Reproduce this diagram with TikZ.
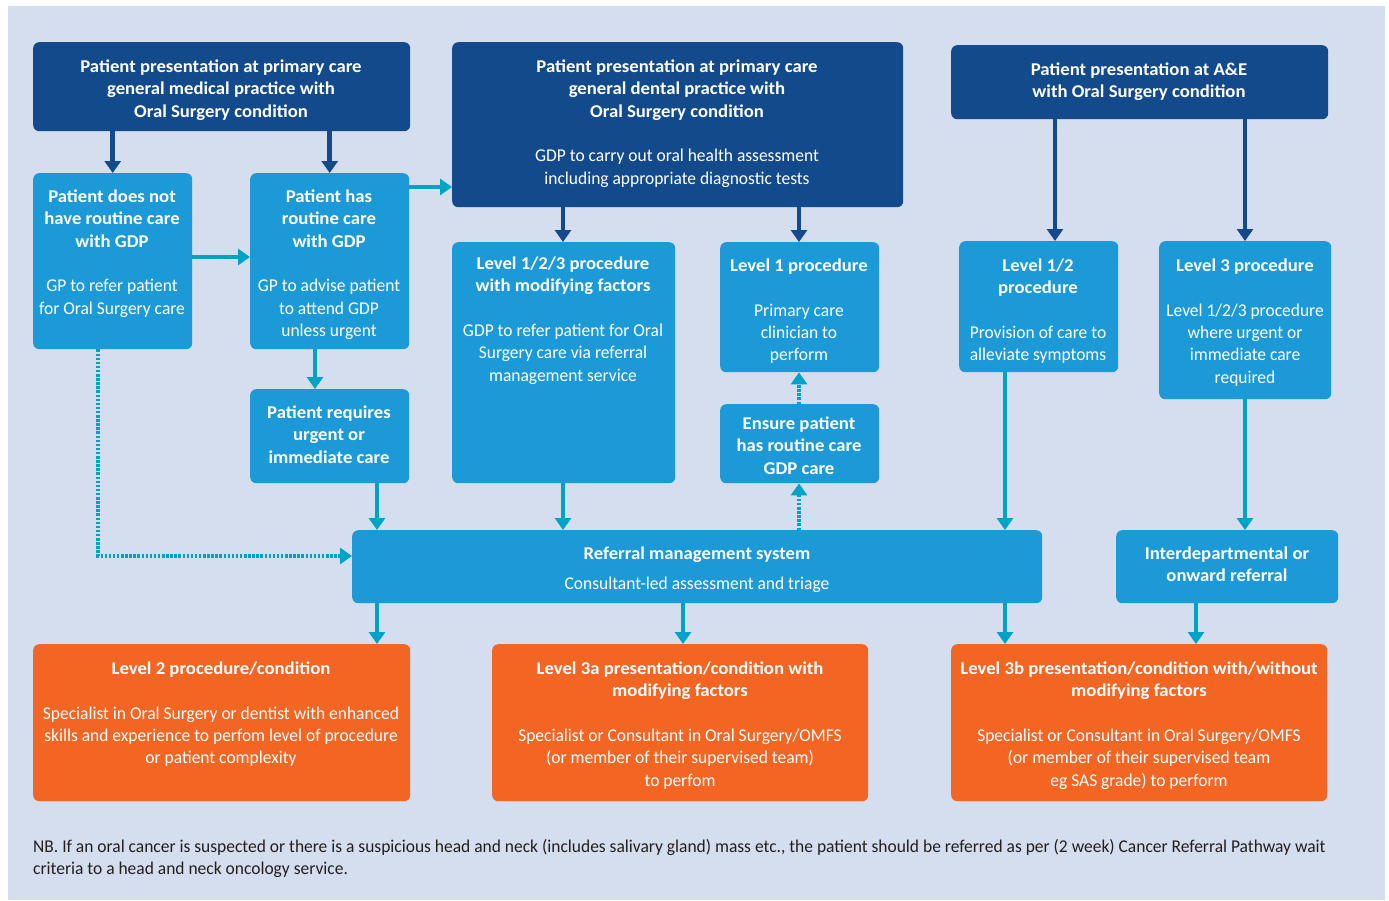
\documentclass[tikz,border=0pt]{standalone}
\usepackage{fontspec}
\setmainfont{Carlito}[UprightFeatures={FakeStretch=0.97},
  BoldFeatures={FakeStretch=1.04}]
\usetikzlibrary{arrows.meta}

\definecolor{pagebg}{HTML}{D5DEEE}
\definecolor{navy}{HTML}{134A8B}
\definecolor{skyblue}{HTML}{1B9AD7}
\definecolor{tealline}{HTML}{00A3C8}
\definecolor{orangebox}{HTML}{F26522}
\definecolor{notegray}{HTML}{231F20}

\begin{document}
\begin{tikzpicture}[x=1pt,y=-1pt,
  box/.style={rounded corners=6pt, inner sep=0pt, anchor=north west},
  darkbox/.style={box, fill=navy},
  lightbox/.style={box, fill=skyblue},
  orangeb/.style={box, fill=orangebox},
  txt/.style={text=white, align=center, inner sep=0pt, anchor=north, yshift=-2.5pt,
    font=\fontsize{18}{22.4}\selectfont},
  navyarrow/.style={draw=navy, line width=4.5pt, -{Triangle[width=16pt,length=12pt]}},
  tealarrow/.style={draw=tealline, line width=4.5pt, -{Triangle[width=16pt,length=12pt]}},
  dotarrow/.style={draw=tealline, line width=4pt, dash pattern=on 2.5pt off 1.6pt,
    -{Triangle[width=16pt,length=12pt]}}]

  % background
  \fill[white] (0,0) rectangle (1389,900);
  \fill[pagebg] (8,6) rectangle (1385,900);
  \useasboundingbox (0,0) rectangle (1389,900);

  % top row
  \node[darkbox, minimum width=377pt, minimum height=89pt] (gmp) at (33,42) {};
  \node[darkbox, minimum width=451pt, minimum height=165pt] (gdp) at (452,42) {};
  \node[darkbox, minimum width=377pt, minimum height=74pt] (ae) at (951,45) {};

  % second row
  \node[lightbox, minimum width=159pt, minimum height=176pt] (nogdp) at (33,173) {};
  \node[lightbox, minimum width=159pt, minimum height=176pt] (hasgdp) at (250,173) {};
  \node[lightbox, minimum width=159pt, minimum height=94pt] (urgent) at (250,389) {};
  \node[lightbox, minimum width=223pt, minimum height=241pt] (lmod) at (452,242) {};
  \node[lightbox, minimum width=159pt, minimum height=130pt] (lone) at (720,242) {};
  \node[lightbox, minimum width=159pt, minimum height=79pt] (ensure) at (720,404) {};
  \node[lightbox, minimum width=159pt, minimum height=131pt] (lonetwo) at (959,241) {};
  \node[lightbox, minimum width=172pt, minimum height=158pt] (lthree) at (1159,241) {};

  % referral row
  \node[lightbox, minimum width=690pt, minimum height=73pt] (rms) at (352,530) {};
  \node[lightbox, minimum width=222pt, minimum height=73pt] (inter) at (1116,530) {};

  % bottom row
  \node[orangeb, minimum width=377pt, minimum height=157pt] (ltwo) at (33,644) {};
  \node[orangeb, minimum width=376pt, minimum height=157pt] (lthreea) at (492,644) {};
  \node[orangeb, minimum width=376pt, minimum height=157pt] (lthreeb) at (951,644) {};

  % box texts
  \node[txt] (gmptxt) at (221,57) {\bfseries Patient presentation at primary care\\
    \bfseries general medical practice with\\ \bfseries Oral Surgery condition};
  \node[txt] (gdptxt) at (677,57) {\bfseries Patient presentation at primary care\\
    \bfseries general dental practice with\\ \bfseries Oral Surgery condition\\[22.4pt]
    GDP to carry out oral health assessment\\ including appropriate diagnostic tests};
  \node[txt] (aetxt) at (1139,60) {\bfseries Patient presentation at A\&E\\
    \bfseries with Oral Surgery condition};
  \node[txt] (nogdptxt) at (112,187) {\bfseries Patient does not\\ \bfseries have routine care\\
    \bfseries with GDP\\[22.4pt] GP to refer patient\\ for Oral Surgery care};
  \node[txt] (hasgdptxt) at (329,187) {\bfseries Patient has\\ \bfseries routine care\\
    \bfseries with GDP\\[22.4pt] GP to advise patient\\ to attend GDP\\ unless urgent};
  \node[txt] (urgenttxt) at (329,403) {\bfseries Patient requires\\ \bfseries urgent or\\
    \bfseries immediate care};
  \node[txt] (lmodtxt) at (563,254) {\bfseries Level 1/2/3 procedure\\
    \bfseries with modifying factors\\[22.4pt] GDP to refer patient for Oral\\
    Surgery care via referral\\ management service};
  \node[txt] (lonetxt) at (799,256) {\bfseries Level 1 procedure\\[22.4pt]
    Primary care\\ clinician to\\ perform};
  \node[txt] (ensuretxt) at (799,414) {\bfseries Ensure patient\\ \bfseries has routine care\\
    \bfseries GDP care};
  \node[txt] (lonetwotxt) at (1038,256) {\bfseries Level 1/2\\ \bfseries procedure\\[22.4pt]
    Provision of care to\\ alleviate symptoms};
  \node[txt] (lthreetxt) at (1245,256) {\bfseries Level 3 procedure\\[22.4pt]
    Level 1/2/3 procedure\\ where urgent or\\ immediate care\\ required};
  \node[txt] (rmstxt) at (697,544) {\bfseries Referral management system\\[8pt]
    Consultant-led assessment and triage};
  \node[txt] (intertxt) at (1227,544) {\bfseries Interdepartmental or\\
    \bfseries onward referral};
  \node[txt] (ltwotxt) at (221,659) {\bfseries Level 2 procedure/condition\\[22.4pt]
    Specialist in Oral Surgery or dentist with enhanced\\
    skills and experience to perfom level of procedure\\ or patient complexity};
  \node[txt] (lthreeatxt) at (680,659) {\bfseries Level 3a presentation/condition with\\
    \bfseries modifying factors\\[22.4pt]
    Specialist or Consultant in Oral Surgery/OMFS\\
    (or member of their supervised team)\\ to perfom};
  \node[txt] (lthreebtxt) at (1139,659) {\bfseries Level 3b presentation/condition with/without\\
    \bfseries modifying factors\\[22.4pt]
    Specialist or Consultant in Oral Surgery/OMFS\\
    (or member of their supervised team\\ eg SAS grade) to perform};

  % note
  \node[text=notegray, align=left, anchor=north west, inner sep=0pt, yshift=-2pt,
    font=\fontsize{18}{22.4}\selectfont] (note) at (33,837)
    {NB. If an oral cancer is suspected or there is a suspicious head and neck (includes salivary gland) mass etc., the patient should be referred as per (2 week) Cancer Referral Pathway wait\\
    criteria to a head and neck oncology service.};

  % columns for the connectors
  \coordinate (cx1) at (98,0);
  \coordinate (cx2) at (315,0);
  \coordinate (cx3) at (377,0);
  \coordinate (cx4) at (563,0);
  \coordinate (cx5) at (683,0);
  \coordinate (cx6) at (799,0);
  \coordinate (cx7) at (1005,0);
  \coordinate (cx8) at (1055,0);
  \coordinate (cx9) at (1245,0);
  \coordinate (cx10) at (1196,0);
  \coordinate (bend) at (98,556);

  % navy connectors
  \draw[navyarrow] (gmp.south -| nogdp) -- (nogdp.north);
  \draw[navyarrow] (gmp.south -| hasgdp) -- (hasgdp.north);
  \draw[navyarrow] (gdp.south -| cx4) -- (lmod.north -| cx4);
  \draw[navyarrow] (gdp.south -| cx6) -- (lone.north -| cx6);
  \draw[navyarrow] (ae.south -| cx8) -- (lonetwo.north -| cx8);
  \draw[navyarrow] (ae.south -| cx9) -- (lthree.north -| cx9);

  % teal connectors
  \draw[tealarrow] ([yshift=-84pt]nogdp.north east) -- ([yshift=-84pt]hasgdp.north west);
  \draw[tealarrow] ([yshift=-14pt]hasgdp.north east) -- ([yshift=-14pt]hasgdp.north east -| gdp.west);
  \draw[tealarrow] (hasgdp.south -| cx2) -- (urgent.north -| cx2);
  \draw[tealarrow] (urgent.south -| cx3) -- (rms.north -| cx3);
  \draw[tealarrow] (lmod.south -| cx4) -- (rms.north -| cx4);
  \draw[tealarrow] (lonetwo.south -| cx7) -- (rms.north -| cx7);
  \draw[tealarrow] (lthree.south -| cx9) -- (inter.north -| cx9);
  \draw[tealarrow] (rms.south -| cx3) -- (ltwo.north -| cx3);
  \draw[tealarrow] (rms.south -| cx5) -- (lthreea.north -| cx5);
  \draw[tealarrow] (rms.south -| cx7) -- (lthreeb.north -| cx7);
  \draw[tealarrow] (inter.south -| cx10) -- (lthreeb.north -| cx10);

  % dotted connectors
  \draw[dotarrow] (nogdp.south -| cx1) -- (bend) -- (bend -| rms.west);
  \draw[dotarrow] (rms.north -| cx6) -- (ensure.south -| cx6);
  \draw[dotarrow] (ensure.north -| cx6) -- (lone.south -| cx6);

\end{tikzpicture}
\end{document}
